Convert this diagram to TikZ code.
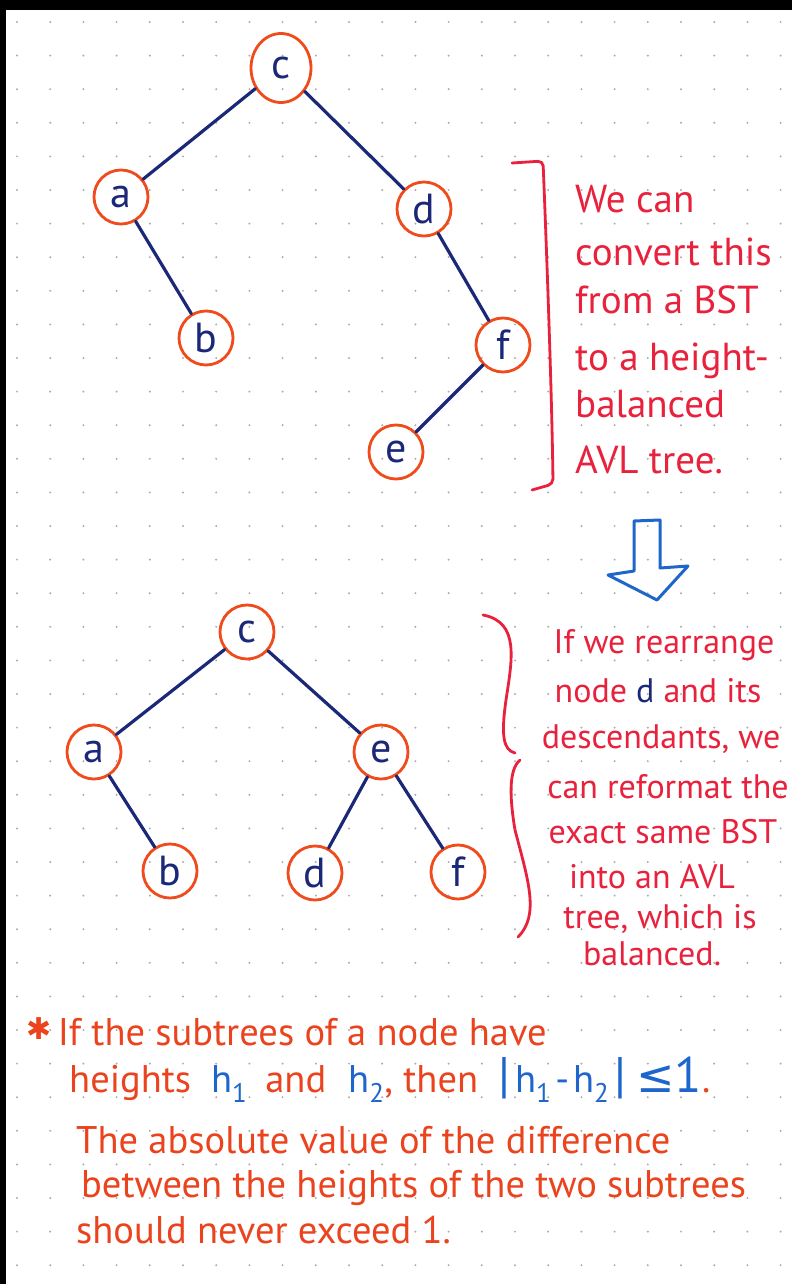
\documentclass[tikz,border=0pt]{standalone}
\usepackage{fontspec}
\setmainfont{PT Sans}
\newfontfamily\symbolfont{DejaVu Sans}
\usetikzlibrary{shapes.geometric}
\definecolor{inkred}{HTML}{E8213C}
\definecolor{inkorange}{HTML}{EA431D}
\definecolor{ringorange}{HTML}{F04B1C}
\definecolor{inknavy}{HTML}{1B2878}
\definecolor{inkblue}{HTML}{1F66CC}
\tikzset{
  treenode/.style={draw=ringorange, line width=2.8pt, circle, minimum size=54pt,
    inner sep=0pt, text=inknavy, font=\fontsize{42}{42}\selectfont},
  treeedge/.style={draw=inknavy, line width=3.2pt, line cap=round},
  sidenote/.style={text=inkred, inner sep=0pt, font=\fontsize{34}{40}\selectfont},
  footnote/.style={text=inkorange, inner sep=0pt, anchor=base west,
    font=\fontsize{38.5}{40}\selectfont},
  bracketline/.style={draw=inkred, line width=2.8pt, line cap=round, line join=round},
}
\newcommand{\blueh}[1]{{\color{inkblue}h\textsubscript{#1}}}
\begin{document}
\begin{tikzpicture}[x=1pt, y=-1pt]
  \useasboundingbox (0,0) rectangle (792,1284);
  \fill[white] (0,0) rectangle (792,1284);
  % dotted paper
  \foreach \i in {0,...,23}
    \foreach \j in {0,...,37}
      \fill[gray!65] (17+33.2*\i, 22+33.6*\j) circle (1.1);
  \fill[black] (0,0) rectangle (792,10);
  \fill[black] (0,0) rectangle (6,1284);

  % first tree (plain BST)
  \node[treenode, ellipse, minimum width=60pt, minimum height=69pt] (bstc) at (281,68) {c};
  \node[treenode] (bsta) at (121,197) {a};
  \node[treenode] (bstd) at (424,209) {d};
  \node[treenode] (bstb) at (206,338) {b};
  \node[treenode] (bstf) at (503,345) {f};
  \node[treenode] (bste) at (396,452) {e};

  \draw[treeedge] (bstc) -- (bsta);
  \draw[treeedge] (bstc) -- (bstd);
  \draw[treeedge] (bsta) -- (bstb);
  \draw[treeedge] (bstd) -- (bstf);
  \draw[treeedge] (bstf) -- (bste);

  \draw[bracketline, rounded corners=5pt] (512,163) -- (543,161)
    .. controls (547,260) and (552,400) .. (553,484) -- (532,490);

  \foreach \y/\txt [count=\k] in {212/We can, 265/convert this, 313/from a BST,
      370/to a height-, 417/balanced, 473/AVL tree.}
    \node[sidenote, font=\fontsize{39}{40}\selectfont, anchor=base west] (convert\k) at (575,\y) {\txt};

  % hollow arrow between the trees
  \draw[inkblue, line width=3pt, line join=round]
    (634,521) -- (660,520) -- (660,568) -- (688,566) -- (657,600)
    -- (608,575) -- (634,571) -- cycle;

  % second tree (AVL)
  \node[treenode] (avlc) at (247,632) {c};
  \node[treenode] (avla) at (94,752) {a};
  \node[treenode] (avle) at (381,752) {e};
  \node[treenode] (avlb) at (170,871) {b};
  \node[treenode] (avld) at (315,873) {d};
  \node[treenode] (avlf) at (458,872) {f};

  \draw[treeedge] (avlc) -- (avla);
  \draw[treeedge] (avlc) -- (avle);
  \draw[treeedge] (avla) -- (avlb);
  \draw[treeedge] (avle) -- (avld);
  \draw[treeedge] (avle) -- (avlf);

  \draw[bracketline] (483,615) .. controls (520,622) and (512,660) .. (506,700)
    .. controls (501,735) and (503,750) .. (515,753);
  \draw[bracketline] (520,760) .. controls (508,770) and (510,800) .. (515,830)
    .. controls (528,880) and (540,915) .. (518,937);

  \foreach \x/\y/\txt [count=\k] in {664/653/If we rearrange,
      658/702/node {\color{inknavy}d} and its, 661/748/{descendants, we},
      668/798/can reformat the, 663/843/exact same BST, 652/888/into an AVL,
      660/928/{tree, which is}, 652/965/balanced.}
    \node[sidenote, anchor=base] (rearrange\k) at (\x,\y) {\txt};

  % balance rule
  \node[footnote] (rule1) at (26,1045) {{\symbolfont\fontsize{30}{30}\selectfont\raisebox{6pt}{✱}}\,If the subtrees of a node have};
  \node[footnote] (rule2) at (69,1092) {heights\kern20pt\blueh{1}\kern18pt and\kern22pt\blueh{2}, then\kern20pt
    {\color{inkblue}\fontsize{50}{50}\selectfont|\kern5pt{\fontsize{38.5}{40}\selectfont h\textsubscript{1}\kern4pt-\kern4pt h\textsubscript{2}}\kern5pt|\kern10pt{\symbolfont\fontsize{46}{46}\selectfont≤}1}.};
  \node[footnote] (rule3) at (76,1153) {The absolute value of the difference};
  \node[footnote] (rule4) at (81,1197) {between the heights of the two subtrees};
  \node[footnote] (rule5) at (76,1243) {should never exceed 1.};
\end{tikzpicture}
\end{document}
